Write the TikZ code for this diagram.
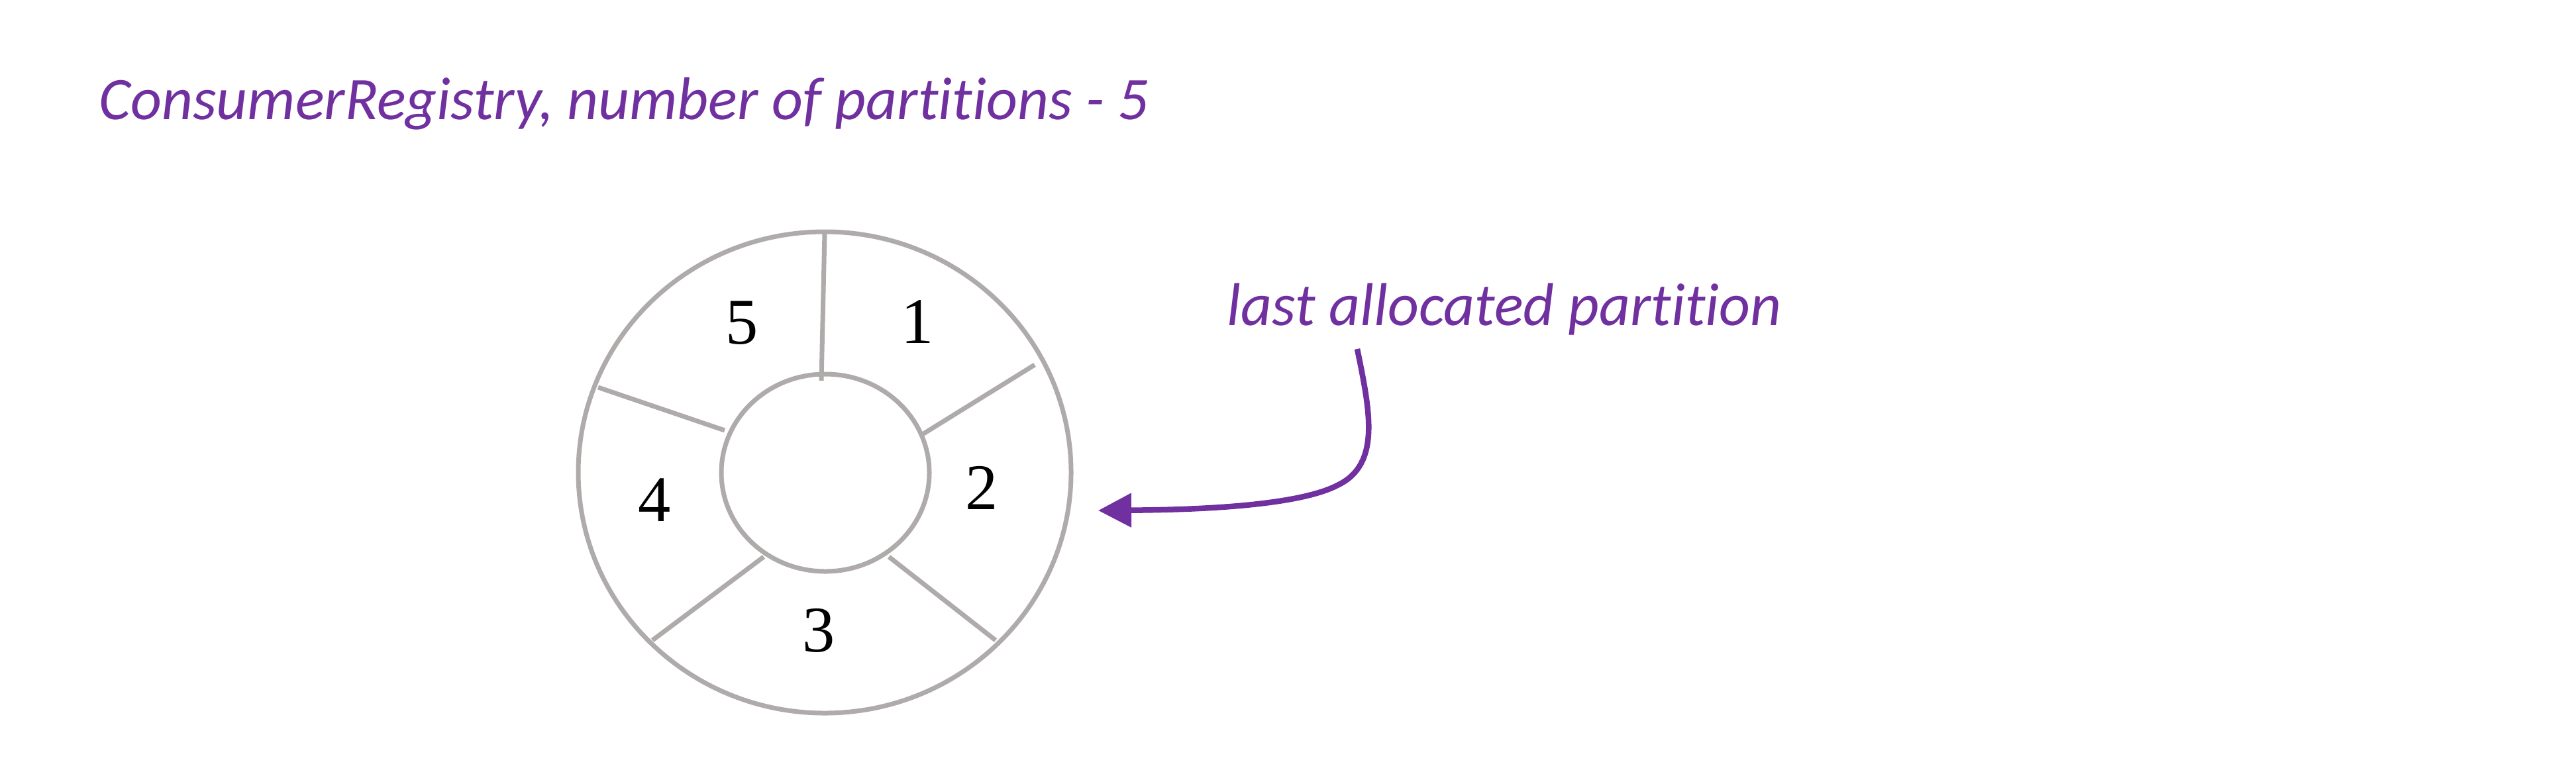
\documentclass[tikz,border=0pt]{standalone}
\usepackage{fontspec}
\setmainfont{Carlito}[Ligatures=NoCommon]
\newfontfamily\digitfont{Liberation Serif}
\usetikzlibrary{shapes.geometric,arrows.meta}
\definecolor{ringgray}{HTML}{AFABAB}
\definecolor{notepurple}{HTML}{7030A0}
\tikzset{
  ring/.style={ellipse, draw=ringgray, line width=0.07cm, inner sep=0pt},
  divider/.style={draw=ringgray, line width=0.07cm},
  digit/.style={font=\digitfont\fontsize{28pt}{32pt}\selectfont, inner sep=0pt, text=black},
  note/.style={font=\itshape\fontsize{26pt}{31pt}\selectfont, text=notepurple, inner sep=0pt, anchor=base west},
  pointer/.style={draw=notepurple, line width=0.085cm, -{Triangle[length=0.5cm,width=0.5cm]}}
}
\begin{document}
\begin{tikzpicture}
\useasboundingbox (0,0) rectangle (38.89,-11.65);
% title
\node[note] (title) at (1.49,-1.80) {ConsumerRegistry, number of partitions - 5};
% rings
\node[ring, minimum width=7.44cm, minimum height=7.27cm] (outer) at (12.45,-7.135) {};
\node[ring, minimum width=3.14cm, minimum height=2.98cm] (inner) at (12.46,-7.14) {};
% dividers
\draw[divider] (12.45,-3.52) -- (12.40,-5.75);
\draw[divider] (15.62,-5.51) -- (13.91,-6.57);
\draw[divider] (15.03,-9.67) -- (13.42,-8.41);
\draw[divider] (9.85,-9.67) -- (11.53,-8.41);
\draw[divider] (9.03,-5.85) -- (10.94,-6.50);
% partition numbers
\node[digit] (p5) at (11.20,-4.88) {5};
\node[digit] (p1) at (13.85,-4.86) {1};
\node[digit] (p2) at (14.82,-7.37) {2};
\node[digit] (p4) at (9.88,-7.55) {4};
\node[digit] (p3) at (12.36,-9.52) {3};
% label and pointer
\node[note] (lbl) at (18.52,-4.91) {last allocated partition};
\coordinate (start) at (20.49,-5.27);
\coordinate (tip) at (16.58,-7.71);
\draw[pointer] (start) .. controls (20.68,-6.20) and (20.85,-7.00) .. (20.21,-7.32)
  .. controls (19.60,-7.65) and (18.00,-7.70) .. (tip);
\end{tikzpicture}
\end{document}
